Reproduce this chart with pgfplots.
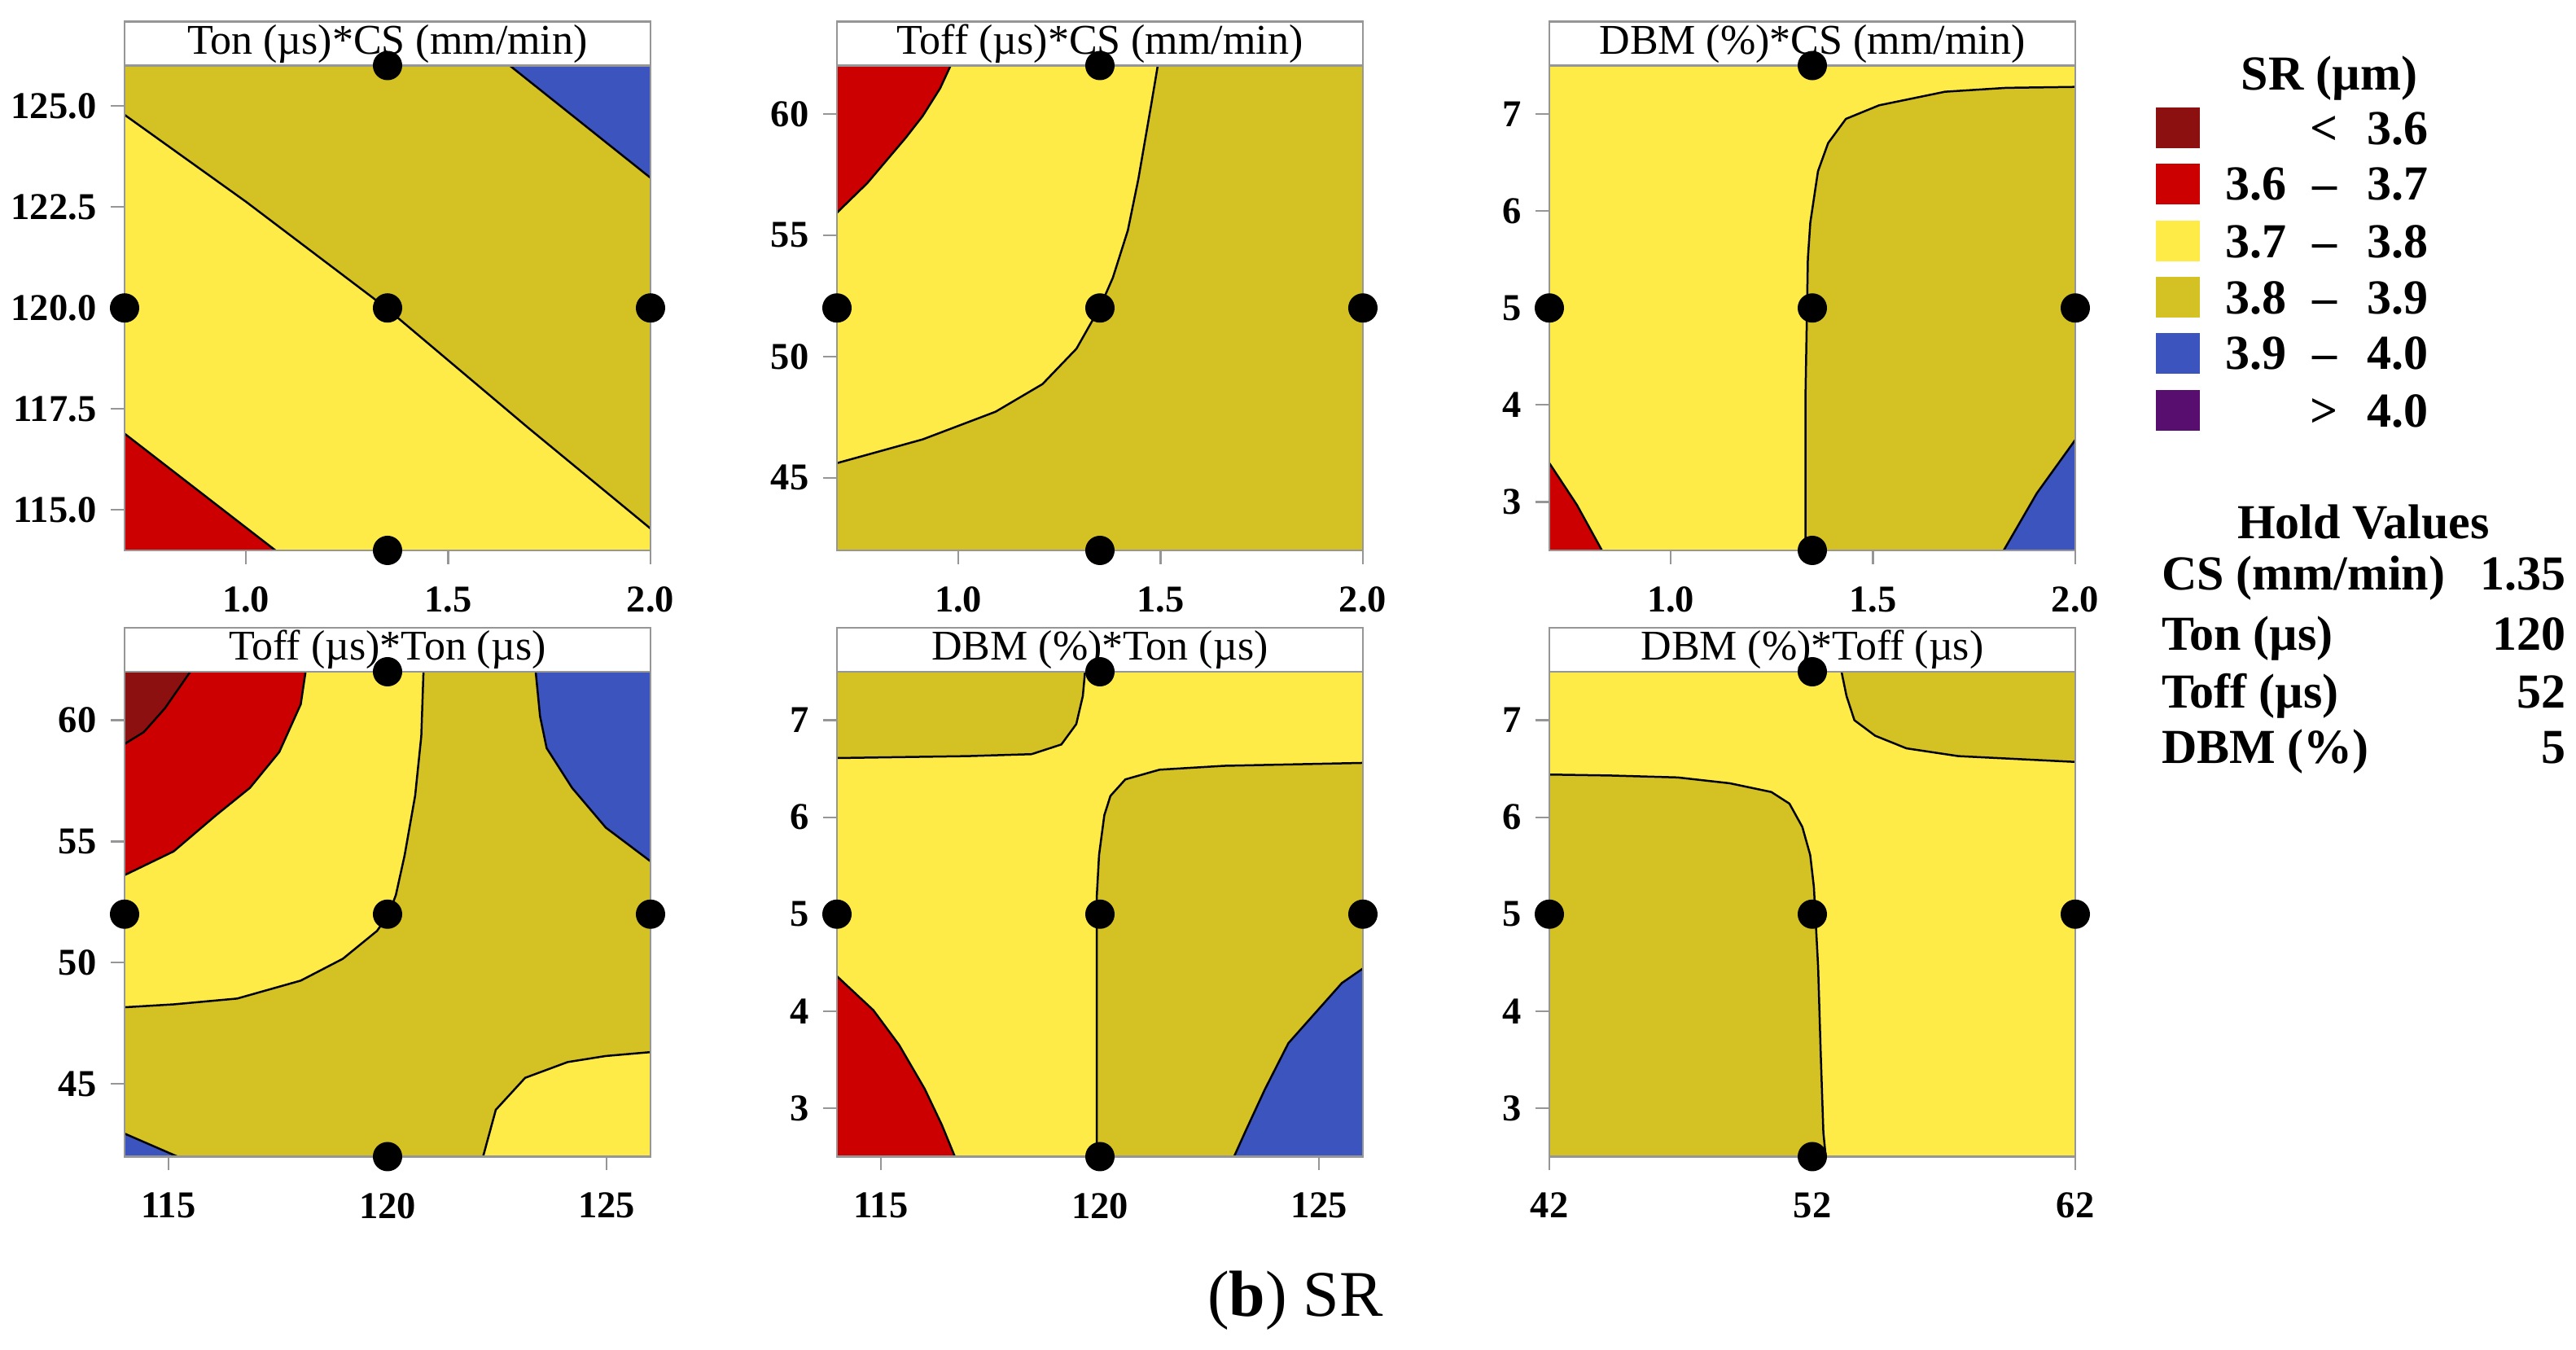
\documentclass[border=0pt]{standalone}
\usepackage{fontspec}
\setmainfont{Liberation Serif}
\usepackage{pgfplots}
\pgfplotsset{compat=1.18}

\definecolor{cDkRed}{RGB}{140,16,16}
\definecolor{cRed}{RGB}{204,0,0}
\definecolor{cYel}{RGB}{255,235,72}
\definecolor{cOl}{RGB}{212,193,36}
\definecolor{cBlu}{RGB}{60,84,190}
\definecolor{cPur}{RGB}{88,14,110}
\definecolor{cFrame}{RGB}{150,150,150}

\pgfplotsset{
  panel/.style={
    scale only axis, width=129.2pt, height=119.1pt,
    enlargelimits=false, clip=false, axis on top,
    axis line style={draw=cFrame, line width=0.45pt},
    tick style={draw=cFrame, line width=0.45pt},
    tick align=outside, major tick length=3.4pt,
    xtick pos=left, ytick pos=left,
    tick label style={font=\fontsize{9.3}{10}\selectfont\bfseries},
    xticklabel style={yshift=-2pt},
    /pgf/number format/assume math mode=true,
  },
  dots/.style={only marks, mark=*, mark size=3.4pt, black},
  cline/.style={black, line width=0.5pt},
}
\newcommand{\strip}[1]{%
  \draw[draw=cFrame, fill=white, line width=0.45pt] (rel axis cs:0,1) rectangle (rel axis cs:1,1.0907);
  \node[font=\fontsize{10.4}{12}\selectfont, inner sep=0pt] at (rel axis cs:0.5,1.0453) {#1};}

\begin{document}
\begin{tikzpicture}
\useasboundingbox (0,0) rectangle (632.8pt,331.6pt);

% ---- row 1 ----
\begin{axis}[panel, at={(30.6pt,196.4pt)}, anchor=south west,
  xmin=0.7, xmax=2.0, ymin=114, ymax=126,
  xtick={1.0,1.5,2.0}, ytick={115,117.5,120,122.5,125},
  xticklabel style={/pgf/number format/.cd, fixed, fixed zerofill, precision=1},
  yticklabel style={/pgf/number format/.cd, fixed, fixed zerofill, precision=1}]
\addplot[fill=cYel, draw=none] coordinates {(0.7,114) (2.0,114) (2.0,126) (0.7,126)} -- cycle;
\addplot[fill=cOl, draw=none] coordinates {(0.7,124.78) (1.0,122.63) (1.343,120.03) (1.697,117.04) (2.0,114.54) (2.0,126) (0.7,126)} -- cycle;
\addplot[fill=cBlu, draw=none] coordinates {(1.652,126) (2.0,123.22) (2.0,126)} -- cycle;
\addplot[fill=cRed, draw=none] coordinates {(0.7,114) (0.7,116.89) (1.073,114)} -- cycle;
\addplot[cline] coordinates {(0.7,124.78) (1.0,122.63) (1.343,120.03) (1.697,117.04) (2.0,114.54)};
\addplot[cline] coordinates {(1.652,126) (2.0,123.22)};
\addplot[cline] coordinates {(0.7,116.89) (1.073,114)};
\strip{Ton (µs)*CS (mm/min)}
\addplot[dots] coordinates {(0.7,120) (1.35,120) (2.0,120) (1.35,114) (1.35,126)};
\end{axis}

\begin{axis}[panel, at={(205.6pt,196.4pt)}, anchor=south west,
  xmin=0.7, xmax=2.0, ymin=42, ymax=62,
  xtick={1.0,1.5,2.0}, ytick={45,50,55,60},
  xticklabel style={/pgf/number format/.cd, fixed, fixed zerofill, precision=1}]
\addplot[fill=cOl, draw=none] coordinates {(0.7,42) (2.0,42) (2.0,62) (0.7,62)} -- cycle;
\addplot[fill=cYel, draw=none] coordinates {(0.7,45.60) (0.912,46.58) (1.092,47.72) (1.208,48.86) (1.292,50.32) (1.350,52.03) (1.382,53.25) (1.419,55.20) (1.445,57.32) (1.477,60.41) (1.493,62) (0.7,62)} -- cycle;
\addplot[fill=cRed, draw=none] coordinates {(0.7,55.93) (0.775,57.15) (0.870,59.02) (0.912,59.92) (0.955,61.06) (0.981,62) (0.7,62)} -- cycle;
\addplot[cline] coordinates {(0.7,45.60) (0.912,46.58) (1.092,47.72) (1.208,48.86) (1.292,50.32) (1.350,52.03) (1.382,53.25) (1.419,55.20) (1.445,57.32) (1.477,60.41) (1.493,62)};
\addplot[cline] coordinates {(0.7,55.93) (0.775,57.15) (0.870,59.02) (0.912,59.92) (0.955,61.06) (0.981,62)};
\strip{Toff (µs)*CS (mm/min)}
\addplot[dots] coordinates {(0.7,52) (1.35,52) (2.0,52) (1.35,42) (1.35,62)};
\end{axis}

\begin{axis}[panel, at={(380.6pt,196.4pt)}, anchor=south west,
  xmin=0.7, xmax=2.0, ymin=2.5, ymax=7.5,
  xtick={1.0,1.5,2.0}, ytick={3,4,5,6,7},
  xticklabel style={/pgf/number format/.cd, fixed, fixed zerofill, precision=1}]
\addplot[fill=cYel, draw=none] coordinates {(0.7,2.5) (2.0,2.5) (2.0,7.5) (0.7,7.5)} -- cycle;
\addplot[fill=cOl, draw=none] coordinates {(1.333,2.5) (1.333,4.07) (1.339,5.51) (1.345,5.88) (1.364,6.41) (1.389,6.70) (1.433,6.95) (1.515,7.09) (1.678,7.23) (1.829,7.27) (2.0,7.28) (2.0,2.5)} -- cycle;
\addplot[fill=cRed, draw=none] coordinates {(0.7,2.5) (0.7,3.40) (0.768,2.97) (0.83,2.5)} -- cycle;
\addplot[fill=cBlu, draw=none] coordinates {(2.0,2.5) (2.0,3.64) (1.905,3.09) (1.823,2.5)} -- cycle;
\addplot[cline] coordinates {(1.333,2.5) (1.333,4.07) (1.339,5.51) (1.345,5.88) (1.364,6.41) (1.389,6.70) (1.433,6.95) (1.515,7.09) (1.678,7.23) (1.829,7.27) (2.0,7.28)};
\addplot[cline] coordinates {(0.7,3.40) (0.768,2.97) (0.83,2.5)};
\addplot[cline] coordinates {(2.0,3.64) (1.905,3.09) (1.823,2.5)};
\strip{DBM (\%)*CS (mm/min)}
\addplot[dots] coordinates {(0.7,5) (1.35,5) (2.0,5) (1.35,2.5) (1.35,7.5)};
\end{axis}

% ---- row 2 ----
\begin{axis}[panel, at={(30.6pt,47.5pt)}, anchor=south west,
  xmin=114, xmax=126, ymin=42, ymax=62,
  xtick={115,120,125}, ytick={45,50,55,60}]
\addplot[fill=cOl, draw=none] coordinates {(114,42) (126,42) (126,62) (114,62)} -- cycle;
\addplot[fill=cYel, draw=none] coordinates {(114,48.16) (115.12,48.28) (116.57,48.52) (118.02,49.26) (118.98,50.16) (119.76,51.31) (120.02,51.97) (120.19,52.79) (120.39,54.43) (120.63,56.89) (120.77,59.34) (120.82,62) (114,62)} -- cycle;
\addplot[fill=cRed, draw=none] coordinates {(114,53.61) (115.12,54.59) (116.08,56.07) (116.86,57.21) (117.53,58.69) (118.02,60.66) (118.13,62) (114,62)} -- cycle;
\addplot[fill=cDkRed, draw=none] coordinates {(114,59.02) (114.44,59.51) (114.92,60.49) (115.5,62) (114,62)} -- cycle;
\addplot[fill=cBlu, draw=none] coordinates {(123.38,62) (123.48,60.16) (123.63,58.85) (124.21,57.21) (124.98,55.57) (126,54.18) (126,62)} -- cycle;
\addplot[fill=cYel, draw=none] coordinates {(122.18,42) (122.47,43.93) (123.14,45.25) (124.11,45.90) (124.98,46.15) (126,46.31) (126,42)} -- cycle;
\addplot[fill=cBlu, draw=none] coordinates {(114,42) (114,42.95) (115.21,42)} -- cycle;
\addplot[cline] coordinates {(114,48.16) (115.12,48.28) (116.57,48.52) (118.02,49.26) (118.98,50.16) (119.76,51.31) (120.02,51.97) (120.19,52.79) (120.39,54.43) (120.63,56.89) (120.77,59.34) (120.82,62)};
\addplot[cline] coordinates {(114,53.61) (115.12,54.59) (116.08,56.07) (116.86,57.21) (117.53,58.69) (118.02,60.66) (118.13,62)};
\addplot[cline] coordinates {(114,59.02) (114.44,59.51) (114.92,60.49) (115.5,62)};
\addplot[cline] coordinates {(123.38,62) (123.48,60.16) (123.63,58.85) (124.21,57.21) (124.98,55.57) (126,54.18)};
\addplot[cline] coordinates {(122.18,42) (122.47,43.93) (123.14,45.25) (124.11,45.90) (124.98,46.15) (126,46.31)};
\addplot[cline] coordinates {(114,42.95) (115.21,42)};
\strip{Toff (µs)*Ton (µs)}
\addplot[dots] coordinates {(114,52) (120,52) (126,52) (120,42) (120,62)};
\end{axis}

\begin{axis}[panel, at={(205.6pt,47.5pt)}, anchor=south west,
  xmin=114, xmax=126, ymin=2.5, ymax=7.5,
  xtick={115,120,125}, ytick={3,4,5,6,7}]
\addplot[fill=cYel, draw=none] coordinates {(114,2.5) (126,2.5) (126,7.5) (114,7.5)} -- cycle;
\addplot[fill=cOl, draw=none] coordinates {(114,6.61) (116.98,6.63) (118.44,6.65) (119.12,6.75) (119.46,6.96) (119.61,7.25) (119.66,7.5) (114,7.5)} -- cycle;
\addplot[fill=cOl, draw=none] coordinates {(119.93,2.5) (119.93,5.20) (119.98,5.61) (120.10,6.02) (120.24,6.22) (120.58,6.39) (121.36,6.49) (122.83,6.53) (126,6.56) (126,2.5)} -- cycle;
\addplot[fill=cRed, draw=none] coordinates {(114,2.5) (114,4.36) (114.83,4.01) (115.42,3.65) (116.0,3.20) (116.39,2.83) (116.69,2.5)} -- cycle;
\addplot[fill=cBlu, draw=none] coordinates {(123.06,2.5) (123.33,2.77) (123.76,3.19) (124.30,3.67) (124.91,3.98) (125.52,4.29) (126,4.44) (126,2.5)} -- cycle;
\addplot[cline] coordinates {(114,6.61) (116.98,6.63) (118.44,6.65) (119.12,6.75) (119.46,6.96) (119.61,7.25) (119.66,7.5)};
\addplot[cline] coordinates {(119.93,2.5) (119.93,5.20) (119.98,5.61) (120.10,6.02) (120.24,6.22) (120.58,6.39) (121.36,6.49) (122.83,6.53) (126,6.56)};
\addplot[cline] coordinates {(114,4.36) (114.83,4.01) (115.42,3.65) (116.0,3.20) (116.39,2.83) (116.69,2.5)};
\addplot[cline] coordinates {(123.06,2.5) (123.33,2.77) (123.76,3.19) (124.30,3.67) (124.91,3.98) (125.52,4.29) (126,4.44)};
\strip{DBM (\%)*Ton (µs)}
\addplot[dots] coordinates {(114,5) (120,5) (126,5) (120,2.5) (120,7.5)};
\end{axis}

\begin{axis}[panel, at={(380.6pt,47.5pt)}, anchor=south west,
  xmin=42, xmax=62, ymin=2.5, ymax=7.5,
  xtick={42,52,62}, ytick={3,4,5,6,7}]
\addplot[fill=cYel, draw=none] coordinates {(42,2.5) (62,2.5) (62,7.5) (42,7.5)} -- cycle;
\addplot[fill=cOl, draw=none] coordinates {(42,2.5) (42,6.44) (44.31,6.43) (46.88,6.41) (48.86,6.35) (50.44,6.26) (51.13,6.14) (51.62,5.90) (51.92,5.61) (52.06,5.28) (52.22,4.46) (52.32,3.56) (52.42,2.75) (52.51,2.5)} -- cycle;
\addplot[fill=cOl, draw=none] coordinates {(53.11,7.5) (53.30,7.25) (53.60,7.0) (54.39,6.84) (55.58,6.71) (57.55,6.63) (60.52,6.59) (62,6.57) (62,7.5)} -- cycle;
\addplot[cline] coordinates {(42,6.44) (44.31,6.43) (46.88,6.41) (48.86,6.35) (50.44,6.26) (51.13,6.14) (51.62,5.90) (51.92,5.61) (52.06,5.28) (52.22,4.46) (52.32,3.56) (52.42,2.75) (52.51,2.5)};
\addplot[cline] coordinates {(53.11,7.5) (53.30,7.25) (53.60,7.0) (54.39,6.84) (55.58,6.71) (57.55,6.63) (60.52,6.59) (62,6.57)};
\strip{DBM (\%)*Toff (µs)}
\addplot[dots] coordinates {(42,5) (52,5) (62,5) (52,2.5) (52,7.5)};
\end{axis}

% ---- legend ----
\begin{scope}[font=\fontsize{12}{14}\selectfont\bfseries, every node/.style={inner sep=0pt}]
\node[anchor=base] at (572.2pt,309.5pt) {SR (µm)};
\foreach \c/\lo/\s/\hi/\y in {cDkRed//</3.6/300.1, cRed/3.6/–/3.7/286.4, cYel/3.7/–/3.8/272.3, cOl/3.8/–/3.9/258.5, cBlu/3.9/–/4.0/244.8, cPur//>/4.0/230.7}{
  \fill[\c] (529.6pt,{(\y-5)*1pt}) rectangle (540.4pt,{(\y+5)*1pt});
  \node[anchor=base east] at (561.8pt,{(\y-3.95)*1pt}) {\lo};
  \node[anchor=base] at (571pt,{(\y-3.95)*1pt}) {\s};
  \node[anchor=base east] at (596.6pt,{(\y-3.95)*1pt}) {\hi};
}
\node[anchor=base] at (580.6pt,199.3pt) {Hold Values};
\node[anchor=base west] at (530.8pt,186.75pt) {CS (mm/min)};
\node[anchor=base east] at (630.4pt,186.75pt) {1.35};
\node[anchor=base west] at (530.8pt,171.85pt) {Ton (µs)};
\node[anchor=base east] at (630.4pt,171.85pt) {120};
\node[anchor=base west] at (530.8pt,157.75pt) {Toff (µs)};
\node[anchor=base east] at (630.4pt,157.75pt) {52};
\node[anchor=base west] at (530.8pt,144.05pt) {DBM (\%)};
\node[anchor=base east] at (630.4pt,144.05pt) {5};
\end{scope}

\node[font=\fontsize{16}{19}\selectfont] at (318.2pt,12.2pt) {(\textbf{b}) SR};
\end{tikzpicture}
\end{document}
